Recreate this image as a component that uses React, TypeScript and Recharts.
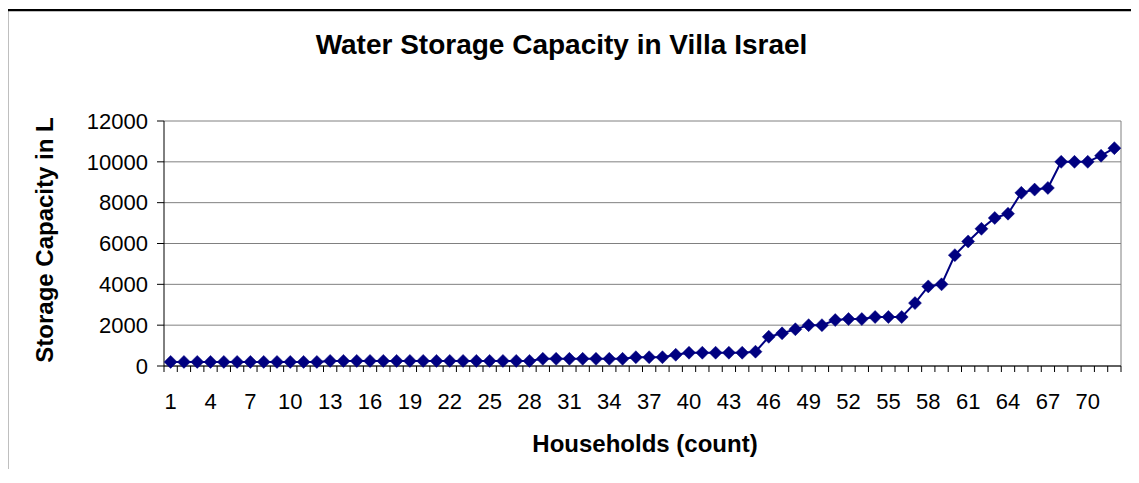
import React from "react";
import {
  LineChart,
  Line,
  XAxis,
  YAxis,
  CartesianGrid,
  ReferenceLine,
} from "recharts";

const TITLE = "Water Storage Capacity in Villa Israel";
const X_LABEL = "Households (count)";
const Y_LABEL = "Storage Capacity in L";

// storage per household, sorted ascending (litres)
const CAPACITY = [
  200, 200, 200, 200, 200, 200, 200, 200, 200, 200, 200, 200,
  250, 250, 250, 250, 250, 250, 250, 250, 250, 250, 250, 250,
  250, 250, 250, 250, 350, 350, 350, 350, 350, 350, 350, 430,
  430, 430, 550, 650, 650, 650, 650, 650, 700, 1430, 1600, 1800,
  2000, 2000, 2250, 2300, 2300, 2400, 2400, 2400, 3080, 3900, 4000, 5430,
  6100, 6720, 7250, 7460, 8480, 8640, 8720, 10000, 10000, 10000, 10300, 10670,
];

const X_TICK_LABELS = [1, 4, 7, 10, 13, 16, 19, 22, 25, 28, 31, 34, 37, 40, 43, 46, 49, 52, 55, 58, 61, 64, 67, 70];
const Y_TICKS = [0, 2000, 4000, 6000, 8000, 10000, 12000];

const data = CAPACITY.map((value, i) => ({ household: i + 1, value }));

// category boundaries, where the x tick marks sit
const BOUNDARIES = Array.from({ length: CAPACITY.length + 1 }, (_, i) => i + 0.5);

const FONT = '"Liberation Sans", Arial, Helvetica, sans-serif';
const NAVY = "#000080";

const CHART_W = 1124;
const CHART_H = 461;
const MARGIN = { top: 110, right: 11, bottom: 0, left: 0 };
const Y_AXIS_W = 156;
const X_AXIS_H = 106;
const PLOT_W = CHART_W - MARGIN.left - MARGIN.right - Y_AXIS_W;
const HALF_STEP = PLOT_W / CAPACITY.length / 2;

function XTick(props: any) {
  const { x, y, payload } = props;
  const label = payload.value + 0.5;
  if (!X_TICK_LABELS.includes(label)) return <g />;
  return (
    <text x={x + HALF_STEP} y={y + 37} textAnchor="middle" fontSize={22} fontFamily={FONT} fill="#000">
      {label}
    </text>
  );
}

function Diamond(props: any) {
  const { cx, cy, index } = props;
  const r = 6.5;
  return (
    <path
      key={`d-${index}`}
      d={`M${cx},${cy - r}L${cx + r},${cy}L${cx},${cy + r}L${cx - r},${cy}Z`}
      fill={NAVY}
      stroke={NAVY}
      strokeWidth={0.5}
    />
  );
}

function YTitle(props: any) {
  const vb = props.viewBox;
  const x = vb.x + 45;
  const y = vb.y + vb.height / 2 - 3.5;
  return (
    <text
      x={x}
      y={y}
      transform={`rotate(-90, ${x}, ${y})`}
      textAnchor="middle"
      fontSize={24}
      fontWeight="bold"
      fontFamily={FONT}
      fill="#000"
    >
      {Y_LABEL}
    </text>
  );
}

function XTitle(props: any) {
  const vb = props.viewBox;
  return (
    <text
      x={vb.x + vb.width / 2 + 2.5}
      y={vb.y + 86}
      textAnchor="middle"
      fontSize={24}
      fontWeight="bold"
      fontFamily={FONT}
      fill="#000"
    >
      {X_LABEL}
    </text>
  );
}

export default function App() {
  return (
    <div
      style={{
        position: "relative",
        top: 3,
        width: CHART_W,
        height: CHART_H,
        background: "#fff",
        fontFamily: FONT,
      }}
    >
      <div
        style={{
          position: "absolute",
          left: 0,
          top: 20,
          width: 1107,
          textAlign: "center",
          fontSize: 28,
          lineHeight: "28px",
          fontWeight: "bold",
          color: "#000",
        }}
      >
        {TITLE}
      </div>
      <LineChart width={CHART_W} height={CHART_H} data={data} margin={MARGIN}>
        <CartesianGrid vertical={false} stroke="#808080" strokeWidth={1} />
        <XAxis
          type="number"
          dataKey="household"
          domain={[0.5, CAPACITY.length + 0.5]}
          ticks={BOUNDARIES}
          interval={0}
          allowDecimals
          height={X_AXIS_H}
          tickSize={6}
          tickMargin={0}
          tick={<XTick />}
          tickLine={{ stroke: "#000" }}
          axisLine={{ stroke: "#000" }}
          label={{ content: <XTitle /> }}
        />
        <YAxis
          domain={[0, 12000]}
          ticks={Y_TICKS}
          interval={0}
          width={Y_AXIS_W}
          tickSize={7}
          tickMargin={9}
          tick={{ fontSize: 22, fill: "#000", fontFamily: FONT }}
          tickLine={{ stroke: "#000" }}
          axisLine={{ stroke: "#000" }}
          label={{ content: <YTitle /> }}
        />
        <ReferenceLine x={CAPACITY.length + 0.5} stroke="#808080" />
        <Line
          type="linear"
          dataKey="value"
          stroke={NAVY}
          strokeWidth={2}
          dot={Diamond}
          activeDot={false}
          isAnimationActive={false}
        />
      </LineChart>
      {/* outer chart frame */}
      <svg
        width={CHART_W + 4}
        height={CHART_H + 4}
        style={{ position: "absolute", left: -2, top: -2, pointerEvents: "none" }}
      >
        <rect x={1} y={1} width={CHART_W + 2} height={CHART_H + 2} fill="none" stroke="#000" strokeWidth={2.5} />
      </svg>
    </div>
  );
}
